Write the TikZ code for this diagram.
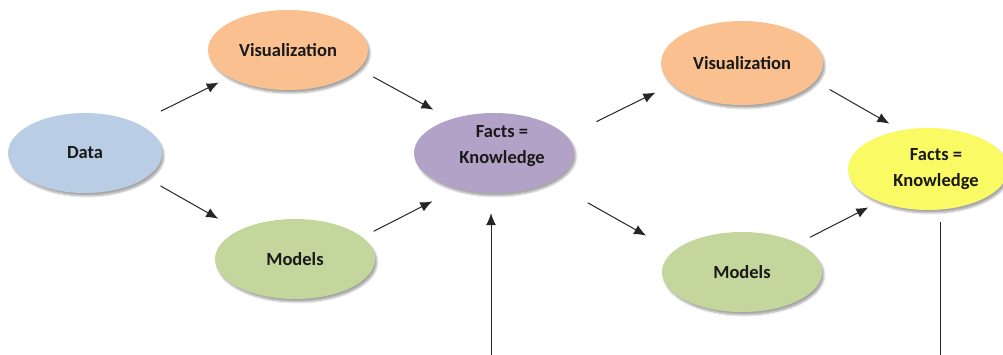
\documentclass[tikz,border=0pt]{standalone}
\usepackage{fontspec}
\setmainfont{Carlito}
\usepackage{tikz}
\usetikzlibrary{arrows.meta,shapes.geometric,shadows.blur}

\definecolor{datablue}{HTML}{B9CDE5}
\definecolor{visorange}{HTML}{FAC090}
\definecolor{modgreen}{HTML}{C3D69B}
\definecolor{factpurple}{HTML}{B3A2C7}
\definecolor{factyellow}{HTML}{FAFA64}

\tikzset{
  blob/.style={shape=ellipse, minimum width=160pt, minimum height=80pt, inner sep=0pt,
    align=center, font=\fontsize{18.5}{26}\selectfont\bfseries, text=black!90,
    blur shadow={shadow xshift=2pt, shadow yshift=-3pt, shadow blur steps=6, shadow opacity=35}},
  link/.style={-{Latex[length=12pt,width=10pt]}, line width=1pt, black!85}
}

\begin{document}
\begin{tikzpicture}[x=1pt,y=1pt]
\useasboundingbox (0,0) rectangle (1003,354);
\node (data) at (85,201) [blob, fill=datablue, minimum width=154pt] {Data};
\node (vis1) at (288,304) [blob, fill=visorange] {Visualization};
\node (models1) at (295,95) [blob, fill=modgreen] {Models};
\node (facts1) at (494,201) [blob, fill=factpurple, text height=35pt, text depth=15pt]
  {\hspace*{16pt}Facts =\\\hspace*{16pt}Knowledge};
\node (vis2) at (742,291) [blob, fill=visorange, minimum width=162pt, minimum height=84pt] {Visualization};
\node (models2) at (742,82) [blob, fill=modgreen] {Models};
\node (facts2) at (928,185) [blob, fill=factyellow, minimum height=82pt, text height=40pt, text depth=6pt]
  {\hspace*{16pt}Facts =\\\hspace*{16pt}Knowledge};
\coordinate (bottom) at (700,-3);

\draw [link, shorten <=27pt, shorten >=11.7pt] (data.30.5) -- (vis1.-155.8);
\draw [link, shorten <=16.6pt, shorten >=19.7pt] (vis1.-15) -- (facts1.142.5);
\draw [link, shorten <=16.7pt, shorten >=23.6pt] (data.-22) -- (models1.153.4);
\draw [link, shorten <=12.8pt, shorten >=27.8pt] (models1.18.4) -- (facts1.-136.4);

\draw [link, shorten <=33pt, shorten >=18.6pt] (facts1.13.9) -- (vis2.-163.4);
\draw [link, shorten <=43pt, shorten >=31.5pt] (facts1.-27.6) -- (models2.163.3);
\draw [link, shorten <=16.7pt, shorten >=13.2pt] (vis2.-14.5) -- (facts2.125.5);
\draw [link, shorten <=13.3pt, shorten >=12.4pt] (models2.27.8) -- (facts2.-146.5);

\draw [link, shorten >=20pt] ([xshift=12pt,yshift=-12pt]facts2.south) |- (bottom) -| ([xshift=-3pt]facts1.south);
\end{tikzpicture}
\end{document}
